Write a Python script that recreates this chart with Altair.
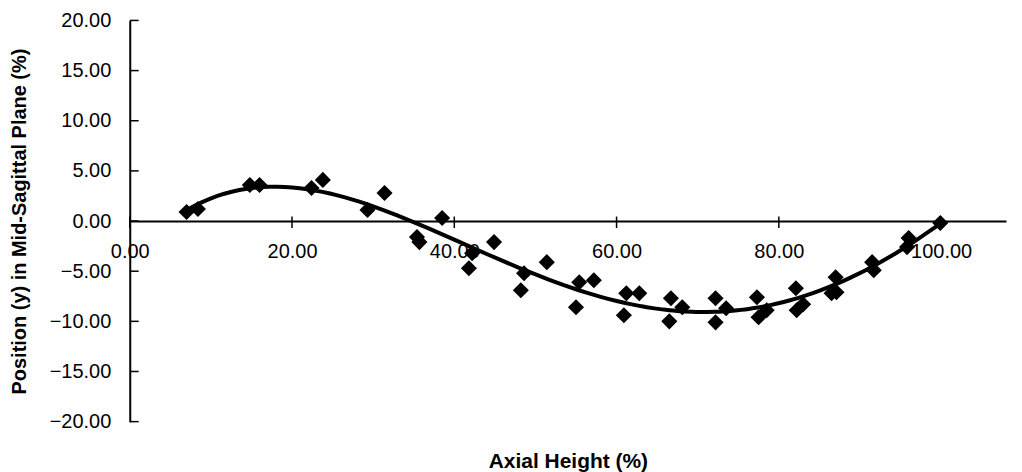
import altair as alt
import pandas as pd

x_vals = [7.0, 8.4, 14.8, 16.0, 22.4, 23.8, 29.3, 31.4, 35.4, 35.7, 38.5, 41.8, 42.2, 44.9,
          48.2, 48.6, 51.4, 55.0, 55.4, 57.2, 60.9, 61.2, 62.8, 66.5, 66.7, 68.1, 72.2, 72.2,
          73.5, 77.3, 77.5, 78.5, 82.1, 82.2, 83.0, 86.5, 87.0, 87.1, 91.5, 91.7, 95.8, 96.0, 99.9]
y_vals = [0.9, 1.2, 3.6, 3.6, 3.3, 4.1, 1.1, 2.8, -1.6, -2.1, 0.3, -4.7, -3.2, -2.1,
          -6.9, -5.2, -4.1, -8.6, -6.1, -5.9, -9.4, -7.2, -7.2, -10.0, -7.7, -8.6, -10.1, -7.7,
          -8.7, -7.6, -9.6, -8.9, -6.7, -8.9, -8.3, -7.2, -5.6, -7.1, -4.1, -4.9, -2.6, -1.7, -0.2]
x_ticks = [0, 20, 40, 60, 80, 100]
y_ticks = [-20, -15, -10, -5, 0, 5, 10, 15, 20]

df = pd.DataFrame({"x": x_vals, "y": y_vals})

# tick-mark lengths, in data units (inward ticks on the y axis, crossing ticks on the x axis)
YT_LEN = 1.1
XT_UP, XT_DOWN = 0.45, -0.7
ytick_df = pd.DataFrame({"x": [0.0] * len(y_ticks), "x2": [YT_LEN] * len(y_ticks), "y": y_ticks})
xtick_df = pd.DataFrame({"x": x_ticks, "y": [XT_UP] * len(x_ticks), "y2": [XT_DOWN] * len(x_ticks)})

W, H = 878, 402
FONT = "Liberation Sans"

xscale = alt.Scale(domain=[0, 108], nice=False, zero=False)
yscale = alt.Scale(domain=[-20, 20], nice=False)

x_axis = alt.Axis(
    values=x_ticks, format=".2f", offset=-H / 2, grid=False, labelFlush=False,
    domainColor="black", domainWidth=2, ticks=False, tickSize=0,
    labelFont=FONT, labelFontSize=20, labelColor="black", labelPadding=21,
    title="Axial Height (%)", titleFont=FONT, titleFontSize=21, titleFontWeight="bold",
    titleColor="black", titleY=241, titleBaseline="middle",
)

y_axis = alt.Axis(
    values=y_ticks, format=".2f", orient="left", grid=False,
    domainColor="black", domainWidth=2, ticks=False, tickSize=0,
    labelFont=FONT, labelFontSize=20, labelColor="black", labelPadding=19,
    title="Position (y) in Mid-Sagittal Plane (%)", titleFont=FONT, titleFontSize=20,
    titleFontWeight="bold", titleColor="black", titleX=-110, titleBaseline="middle",
)

X = alt.X("x:Q", scale=xscale, axis=x_axis)
Y = alt.Y("y:Q", scale=yscale, axis=y_axis)

points = alt.Chart(df).mark_point(
    shape="diamond", filled=True, size=260, color="black", opacity=1
).encode(x=X, y=Y)

curve = alt.Chart(df).transform_regression(
    "x", "y", method="poly", order=4, extent=[7, 100]
).mark_line(color="black", strokeWidth=4).encode(x=X, y=Y)

yticks = alt.Chart(ytick_df).mark_rule(color="black", strokeWidth=1.5).encode(
    x=X, x2="x2:Q", y=Y
)
xticks = alt.Chart(xtick_df).mark_rule(color="black", strokeWidth=1.5).encode(
    x=X, y=Y, y2="y2:Q"
)

chart = alt.layer(yticks, xticks, curve, points).properties(
    width=W, height=H,
    autosize=alt.AutoSizeParams(type="none"),
    padding={"left": 122, "top": 12, "right": 8, "bottom": 50},
    background="white",
).configure_view(stroke=None)

chart.save("out.html", embed_options={"renderer": "svg", "actions": False})
